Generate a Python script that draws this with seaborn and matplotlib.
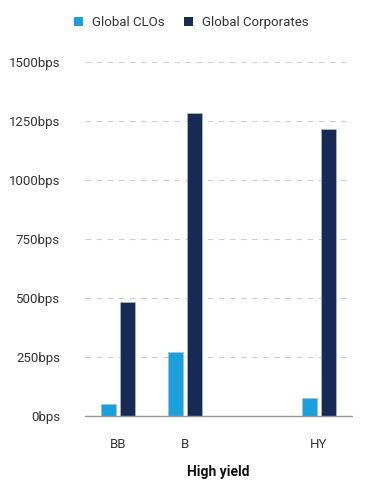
import matplotlib
matplotlib.use("Agg")
import matplotlib.pyplot as plt
import seaborn as sns
import pandas as pd
from matplotlib.patches import Patch

categories = ["BB", "B", " ", "HY"]
plot_categories = ["BB", "B", "HY"]
clo_values = [51, 272, 76]
corp_values = [483, 1282, 1217]
series_names = ["Global CLOs", "Global Corporates"]
yticks = [0, 250, 500, 750, 1000, 1250, 1500]
ytick_labels = [f"{v}bps" for v in yticks]
x_title = "High yield"

df = pd.DataFrame({
    "cat": plot_categories * 2,
    "series": [series_names[0]] * 3 + [series_names[1]] * 3,
    "value": clo_values + corp_values,
})

sns.set_theme(style="white")
plt.rcParams["font.family"] = ["Roboto", "DejaVu Sans"]

colors = ["#1aa0dc", "#172a54"]
fig = plt.figure(figsize=(3.68, 4.8), dpi=100)
ax = fig.add_axes([0.231, 0.133, 0.726, 0.738])

sns.barplot(data=df, x="cat", y="value", hue="series", order=categories,
            hue_order=series_names, palette=colors, saturation=1, width=0.57, gap=0.22,
            ax=ax, legend=False, edgecolor="#b0b8c8", linewidth=0.5, zorder=3)

ax.set_ylim(0, 1500)
ax.set_yticks(yticks)
ax.set_yticklabels(ytick_labels, fontsize=9.5, color="#333333")
ax.set_xticks(range(len(categories)))
ax.set_xticklabels(categories, fontsize=9.5, color="#333333")
ax.tick_params(axis="x", pad=16, length=0)
ax.tick_params(axis="y", pad=18, length=0)

for y in yticks[1:]:
    ax.axhline(y, color="#d0d0d0", linestyle=(0, (5, 5)), linewidth=0.8, zorder=1)
ax.axhline(0, color="#999999", linewidth=1.0, zorder=4, clip_on=False)

for s in ["top", "right", "left", "bottom"]:
    ax.spines[s].set_visible(False)

ax.set_xlabel(x_title, fontsize=10, fontweight="bold", color="#111111", labelpad=10)
ax.set_ylabel("")

handles = [Patch(facecolor=c, edgecolor="none") for c in colors]
fig.legend(handles, series_names, loc="center", bbox_to_anchor=(0.52, 0.953),
           ncol=2, frameon=False, fontsize=9.5, handlelength=0.7, handleheight=0.7,
           handletextpad=0.7, columnspacing=1.4, labelcolor="#333333")

fig.savefig("out.png", dpi=100)
